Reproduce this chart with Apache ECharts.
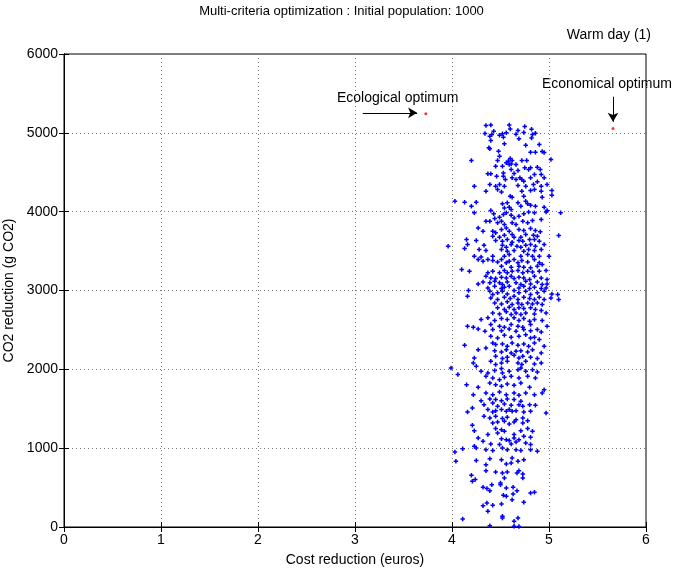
<!DOCTYPE html>
<html>
<head>
<meta charset="utf-8">
<script src="https://cdn.jsdelivr.net/npm/echarts@6/dist/echarts.min.js"></script>
<style>
  html, body { margin: 0; padding: 0; background: #fff; }
  #chart { width: 683px; height: 570px; }
</style>
</head>
<body>
<div id="chart"></div>
<script>
// axis ticks
const xTicks = [0, 1, 2, 3, 4, 5, 6];
const yTicks = [0, 1000, 2000, 3000, 4000, 5000, 6000];

// population: [cost reduction (euros), CO2 reduction (g CO2)]
const population = [
  [4.35,5093],[4.40,5100],[4.59,5100],[4.75,5080],[4.82,5046],[4.60,5050],[4.68,5030],[4.74,5004],[4.66,4983],[4.56,5000],
  [4.52,4987],[4.49,4970],[4.43,5020],[4.41,4978],[4.34,4990],[4.39,4957],[4.53,4945],[4.69,4924],[4.83,4978],[4.86,4995],
  [4.82,4936],[4.40,4902],[4.54,4860],[4.76,4843],[4.38,4810],[4.39,4797],[4.90,4852],[4.86,4754],[4.93,4763],[4.95,4750],
  [4.81,4754],[4.48,4767],[4.49,4704],[4.20,4649],[4.47,4649],[4.60,4674],[4.58,4640],[4.62,4649],[4.61,4606],[4.56,4619],
  [4.72,4649],[4.77,4649],[5.02,4661],[4.45,4577],[4.52,4577],[4.59,4598],[4.66,4598],[4.75,4556],[4.81,4556],[4.79,4534],
  [4.88,4564],[4.91,4534],[4.92,4471],[4.61,4534],[4.68,4522],[4.53,4492],[4.37,4480],[4.40,4480],[4.46,4450],[4.53,4450],
  [4.64,4484],[4.62,4429],[4.55,4407],[4.70,4429],[4.72,4407],[4.85,4471],[4.81,4429],[4.74,4386],[4.66,4407],[4.88,4378],
  [4.95,4429],[4.98,4344],[4.49,4344],[4.39,4344],[4.45,4323],[4.68,4331],[4.76,4323],[4.54,4323],[4.84,4344],[4.23,4323],
  [4.92,4323],
  [4.35,4260],[4.47,4281],[4.51,4251],[4.60,4196],[4.62,4184],[4.72,4260],[4.74,4196],[4.81,4268],[4.85,4281],[4.92,4260],
  [4.93,4184],[5.03,4268],[5.03,4209],[4.03,4133],[4.13,4120],[4.25,4120],[4.20,4069],[4.52,4099],[4.57,4112],[4.68,4112],
  [4.76,4133],[4.78,4099],[4.81,4082],[4.54,4048],[4.59,4057],[4.61,4027],[4.71,4069],[4.86,4069],[4.95,4057],[4.23,3985],
  [4.40,4014],[4.43,3972],[4.56,3985],[4.53,3964],[4.61,3955],[4.64,3921],[4.69,3942],[4.74,3972],[4.79,3997],[4.85,3985],
  [4.97,3997],[4.98,4014],[5.12,3985],[4.44,3913],[4.49,3930],[4.35,3879],[4.39,3879],[4.47,3858],[4.51,3879],[4.54,3837],
  [4.62,3858],[4.66,3837],[4.73,3879],[4.78,3858],[4.83,3887],[4.92,3900],[4.27,3794],[4.32,3752],[4.42,3752],[4.45,3731],
  [4.51,3773],[4.56,3794],[4.59,3752],[4.69,3773],[4.74,3761],[4.81,3786],[4.86,3761],[4.91,3744],[4.42,3689],[4.49,3676],
  [4.54,3701],[4.62,3710],[4.64,3676],[4.71,3676],[4.76,3710],[4.84,3701],[4.88,3689],[5.10,3697],[4.15,3646],[4.25,3634],
  [4.45,3634],[4.52,3625],[4.57,3646],[4.62,3613],[4.69,3634],[4.73,3625],[4.80,3646],[4.85,3646],[4.90,3625],[3.96,3562],
  [4.16,3583],[4.33,3574],[4.52,3574],[4.56,3549],[4.61,3583],[4.67,3562],[4.71,3549],[4.76,3574],[4.81,3583],[4.86,3562],
  [4.95,3583],[4.13,3532],[4.28,3519],[4.35,3507],[4.51,3519],[4.57,3498],[4.64,3507],[4.74,3498],[4.79,3519],[4.85,3507],
  [4.92,3519],[4.23,3435],[4.30,3426],[4.42,3435],[4.54,3435],[4.59,3456],[4.71,3435],[4.78,3456],[4.83,3435],[4.90,3435],
  [5.00,3435],
  [4.27,3393],[4.32,3372],[4.37,3393],[4.42,3380],[4.47,3363],[4.51,3393],[4.56,3351],[4.59,3372],[4.64,3393],[4.68,3351],
  [4.72,3380],[4.78,3363],[4.85,3393],[4.90,3351],[4.93,3329],[4.51,3308],[4.61,3296],[4.69,3308],[4.74,3296],[4.81,3287],
  [4.88,3308],[4.10,3266],[4.18,3245],[4.37,3224],[4.42,3245],[4.49,3224],[4.54,3253],[4.57,3224],[4.62,3245],[4.68,3253],
  [4.73,3224],[4.78,3245],[4.83,3236],[4.90,3245],[4.97,3253],[4.35,3181],[4.40,3160],[4.45,3152],[4.51,3169],[4.56,3160],
  [4.61,3181],[4.64,3152],[4.69,3169],[4.74,3160],[4.80,3139],[4.85,3181],[4.92,3160],[4.98,3139],[4.27,3084],[4.32,3109],
  [4.39,3097],[4.44,3118],[4.49,3097],[4.52,3076],[4.57,3109],[4.66,3097],[4.71,3076],[4.76,3118],[4.81,3084],[4.88,3109],
  [4.93,3076],[4.98,3084],[4.37,3033],[4.44,3054],[4.51,3025],[4.54,3042],[4.59,3054],[4.69,3033],[4.74,3054],[4.80,3025],
  [4.85,3042],[4.92,3025],[4.97,3033],[4.17,3000],[4.16,2928],[4.39,2991],[4.42,2949],[4.47,2970],[4.52,2991],[4.57,2957],
  [4.64,3000],[4.69,2970],[4.76,2991],[4.81,2949],[4.88,2970],[4.95,2991],[5.03,2957],[5.09,2949],[5.10,2885],[5.02,2906],
  [4.40,2906],[4.47,2885],[4.54,2915],[4.60,2898],[4.64,2928],[4.68,2885],[4.74,2915],[4.80,2898],[4.85,2885],[4.90,2915],
  [4.95,2885],[4.44,2843],[4.51,2830],[4.57,2856],[4.62,2822],[4.68,2843],[4.72,2822],[4.78,2843],[4.83,2830],[4.88,2843],
  [4.93,2822],[4.47,2780],[4.54,2758],[4.59,2788],[4.64,2758],[4.69,2780],[4.74,2771],[4.81,2780],[4.86,2758],[4.92,2746],
  [4.42,2716],[4.49,2703],[4.56,2729],[4.61,2695],[4.66,2716],[4.71,2695],[4.76,2716],[4.85,2703],[4.97,2716],[4.30,2631],
  [4.37,2653],[4.44,2619],[4.51,2644],[4.57,2631],[4.64,2653],[4.69,2619],[4.74,2644],[4.80,2610],[4.85,2631],[4.93,2619],
  [4.16,2547],[4.22,2534],[4.40,2568],[4.49,2547],[4.54,2534],[4.61,2568],[4.68,2547],[4.73,2534],[4.81,2568],[4.98,2547],
  [4.27,2512],[4.34,2483],[4.42,2504],[4.51,2491],[4.59,2512],[4.66,2483],[4.74,2504],[4.81,2491],[4.88,2504],[4.92,2474],
  [4.40,2419],[4.47,2398],[4.54,2432],[4.61,2407],[4.69,2419],[4.76,2440],[4.81,2398],[4.85,2407],[4.90,2377],[4.13,2305],
  [4.27,2250],[4.35,2271],[4.42,2335],[4.45,2314],[4.52,2322],[4.57,2292],[4.62,2335],[4.68,2305],[4.74,2322],[4.79,2292],
  [4.85,2335],[4.95,2292],[4.44,2237],[4.51,2220],[4.56,2250],[4.61,2208],[4.66,2229],[4.71,2237],[4.78,2220],[4.83,2250],
  [4.92,2208],[4.23,2144],[4.45,2165],[4.52,2136],[4.57,2153],[4.64,2178],[4.69,2144],[4.73,2165],[4.81,2153],[4.88,2136],
  [4.22,2081],[4.25,2039],[4.40,2102],[4.45,2060],[4.51,2081],[4.57,2102],[4.68,2081],[4.72,2060],[4.76,2102],[4.85,2068],
  [4.92,2081],[3.99,2017],[4.30,1975],[4.37,1954],[4.44,1984],[4.51,2009],[4.52,1954],[4.59,1975],[4.68,1996],[4.71,2017],
  [4.76,1975],[4.83,1996],[4.88,1967],[4.06,1933],[4.35,1912],[4.42,1891],[4.49,1869],[4.54,1899],[4.61,1912],[4.69,1891],
  [4.78,1912],[4.86,1891],[4.15,1806],[4.27,1772],[4.39,1827],[4.45,1806],[4.51,1785],[4.57,1814],[4.64,1797],[4.71,1827],
  [4.80,1772],[4.95,1742],[4.22,1679],[4.35,1700],[4.42,1679],[4.49,1713],[4.56,1679],[4.64,1700],[4.69,1671],[4.76,1700],
  [4.85,1679],[4.93,1700],
  [4.39,1624],[4.45,1616],[4.51,1603],[4.57,1624],[4.64,1616],[4.71,1595],[4.30,1603],[4.33,1552],[4.42,1574],[4.47,1531],
  [4.54,1561],[4.61,1544],[4.69,1552],[4.73,1531],[4.80,1552],[4.86,1544],[4.16,1459],[4.21,1510],[4.37,1489],[4.42,1459],
  [4.45,1476],[4.51,1489],[4.56,1468],[4.59,1489],[4.62,1468],[4.66,1476],[4.74,1459],[4.81,1468],[4.97,1447],[4.33,1404],
  [4.39,1383],[4.45,1404],[4.52,1375],[4.57,1392],[4.66,1362],[4.73,1383],[4.78,1349],[4.42,1320],[4.47,1332],[4.54,1341],
  [4.59,1307],[4.64,1332],[4.73,1320],[4.21,1290],[4.23,1222],[4.45,1248],[4.51,1235],[4.47,1193],[4.54,1214],[4.64,1172],
  [4.71,1222],[4.78,1248],[4.83,1214],[4.37,1172],[4.74,1151],[4.81,1138],[4.27,1129],[4.32,1087],[4.51,1121],[4.56,1108],
  [4.59,1096],[4.64,1129],[4.69,1108],[4.40,1053],[4.49,1045],[4.61,1053],[4.66,1079],[4.76,1066],[4.81,1045],[4.23,1024],
  [4.25,1003],[4.03,952],[4.11,994],[4.35,981],[4.42,969],[4.52,1003],[4.57,981],[4.66,981],[4.71,969],[4.81,981],
  [4.88,960],[4.04,833],[4.25,842],[4.39,867],[4.51,854],[4.62,876],[4.68,833],[4.74,854],[4.35,791],[4.56,799],
  [4.61,812],
  [4.35,715],[4.45,698],[4.52,686],[4.57,698],[4.67,686],[4.69,715],[4.73,673],[4.20,656],[4.24,601],[4.21,580],
  [4.54,622],[4.73,622],[4.50,559],[4.50,537],[4.41,537],[4.32,504],[4.36,487],[4.39,461],[4.56,495],[4.63,504],
  [4.67,461],[4.81,432],[4.85,440],[4.63,419],[4.53,402],[4.56,389],[4.62,347],[4.36,305],[4.32,271],[4.42,275],
  [4.51,292],[4.74,313],[4.37,199],[4.11,102],[4.52,136],[4.52,114],[4.68,114],[4.64,72],[4.39,15],[4.64,9],
  [4.69,5]
];

// the two optima (red)
const ecologicalOptimum = [3.73, 5241];
const economicalOptimum = [5.66, 5055];

// arrow ends for the annotations, in data units
const ecoArrow = [[3.08, 5254], [3.64, 5254]];
const econArrow = [[5.66, 5457], [5.66, 5140]];

const chart = echarts.init(document.getElementById('chart'));
const font = 'Liberation Sans, Arial, sans-serif';
const gridLine = { show: true, lineStyle: { color: '#777', type: [1, 3], width: 1 } };

const option = {
  animation: false,
  backgroundColor: '#fff',
  textStyle: { fontFamily: font, color: '#000' },
  grid: {
    left: 64, right: 37, top: 54, bottom: 43,
    outerBoundsMode: 'none', containLabel: false,
    show: true, borderColor: '#000', borderWidth: 1
  },
  xAxis: [
    {
      type: 'value', min: xTicks[0], max: xTicks[xTicks.length - 1], interval: 1,
      name: 'Cost reduction (euros)', nameLocation: 'middle', nameGap: 26,
      nameTextStyle: { fontSize: 14, color: '#000' },
      axisLine: { lineStyle: { color: '#000' } },
      axisTick: { inside: true, length: 5, lineStyle: { color: '#000' } },
      axisLabel: { fontSize: 14, color: '#000', margin: 6, formatter: v => String(v) },
      splitLine: gridLine
    },
    {
      type: 'value', position: 'top', min: 0, max: 6, interval: 1,
      axisLine: { lineStyle: { color: '#000' } },
      axisTick: { inside: true, length: 5, lineStyle: { color: '#000' } },
      axisLabel: { show: false }, splitLine: { show: false }
    }
  ],
  yAxis: [
    {
      type: 'value', min: yTicks[0], max: yTicks[yTicks.length - 1], interval: 1000,
      name: 'CO2 reduction (g CO2)', nameLocation: 'middle', nameGap: 40,
      nameTextStyle: { fontSize: 14, color: '#000' },
      axisLine: { show: true, lineStyle: { color: '#000' } },
      axisTick: { show: true, inside: true, length: 5, lineStyle: { color: '#000' } },
      axisLabel: { fontSize: 14, color: '#000', margin: 6, formatter: v => String(v) },
      splitLine: gridLine
    },
    {
      type: 'value', position: 'right', min: 0, max: 6000, interval: 1000,
      axisLine: { show: true, lineStyle: { color: '#000' } },
      axisTick: { show: true, inside: true, length: 5, lineStyle: { color: '#000' } },
      axisLabel: { show: false }, splitLine: { show: false }
    }
  ],
  series: [
    {
      type: 'scatter',
      data: population,
      symbol: 'path://M-1,-3H1V-1H3V1H1V3H-1V1H-3V-1H-1Z',
      symbolSize: 4.5,
      itemStyle: { color: '#0000ff', opacity: 1 },
      silent: true
    },
    {
      type: 'scatter',
      data: [ecologicalOptimum, economicalOptimum],
      symbol: 'circle',
      symbolSize: 3,
      itemStyle: { color: '#ff0000' },
      silent: true,
      markLine: {
        silent: true,
        symbol: ['none', 'arrow'],
        symbolSize: [8, 9],
        label: { show: false },
        lineStyle: { color: '#000', width: 1, type: 'solid' },
        data: [
          [{ coord: ecoArrow[0] }, { coord: ecoArrow[1] }],
          [{ coord: econArrow[0] }, { coord: econArrow[1] }]
        ]
      }
    }
  ],
  graphic: [
    {
      type: 'text', left: 'center', top: 5,
      style: { text: 'Multi-criteria optimization : Initial population: 1000', font: '13px ' + font, fill: '#000' }
    },
    {
      type: 'text', right: 32, top: 28,
      style: { text: 'Warm day (1)', font: '14px ' + font, fill: '#000' }
    },
    {
      type: 'text', left: 337, top: 91,
      style: { text: 'Ecological optimum', font: '14px ' + font, fill: '#000' }
    },
    {
      type: 'text', left: 542, top: 77,
      style: { text: 'Economical optimum', font: '14px ' + font, fill: '#000' }
    }
  ]
};

chart.setOption(option);
</script>
</body>
</html>
